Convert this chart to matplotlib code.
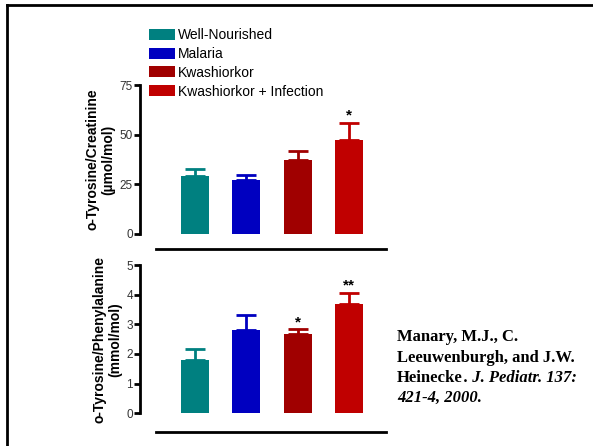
import matplotlib.pyplot as plt
from matplotlib.lines import Line2D

plt.rcParams['font.family'] = ['Liberation Sans', 'DejaVu Sans']

groups = ['Well-Nourished', 'Malaria', 'Kwashiorkor', 'Kwashiorkor + Infection']
colors = ['#008080', '#0000c0', '#a00000', '#c00000']

creatMean = [29.2, 27.0, 37.1, 47.3]
creatErr = [3.7, 2.7, 4.8, 8.7]
creatStars = ['', '', '', '*']

pheMean = [1.80, 2.80, 2.66, 3.68]
pheErr = [0.37, 0.52, 0.18, 0.39]
pheStars = ['', '', '*', '**']

x = [0, 1, 2, 3]

fig = plt.figure(figsize=(5.93, 4.46), dpi=100)

# frame lines
fig.add_artist(Line2D([7/593, 1], [1 - 5/446, 1 - 5/446], color='black', lw=2))
fig.add_artist(Line2D([7/593, 7/593], [0, 1 - 5/446], color='black', lw=2))
# separator lines
for yp in [249, 432]:
    fig.add_artist(Line2D([156/593, 386/593], [1 - yp/446, 1 - yp/446], color='black', lw=2))


def panel(ax, means, errs, stars, ymax, ticks, ylabel):
    for i in x:
        ax.bar(x[i], means[i], width=0.55, color=colors[i], label=groups[i], zorder=2)
        ax.errorbar(x[i], means[i], yerr=[[0], [errs[i]]], color=colors[i],
                    capsize=7, elinewidth=2, capthick=2, zorder=1)
        if stars[i]:
            ax.text(x[i], means[i] + errs[i], stars[i], ha='center', va='bottom',
                    fontsize=11, fontweight='bold')
    ax.set_xlim(-1.07, 3.72)
    ax.set_ylim(0, ymax)
    ax.set_yticks(ticks)
    ax.set_xticks([])
    for s in ['top', 'right', 'bottom']:
        ax.spines[s].set_visible(False)
    ax.spines['left'].set_linewidth(2)
    ax.spines['left'].set_bounds(0, ymax)
    ax.tick_params(axis='y', length=4, width=2, labelsize=8.5, pad=1,
                   labelcolor='#333333', color='black')
    ax.set_ylabel(ylabel, fontsize=10, fontweight='bold', labelpad=3)
    ax.patch.set_visible(False)


ax1 = fig.add_axes([140/593, 212/446, 246/593, 149/446])
panel(ax1, creatMean, creatErr, creatStars, 75, [0, 25, 50, 75],
      'o-Tyrosine/Creatinine\n(\u00b5mol/mol)')
ax1.legend(loc='upper left', bbox_to_anchor=(149/593, 1 - 28/446),
           bbox_transform=fig.transFigure, frameon=False, fontsize=10,
           handlelength=1.9, handleheight=0.85, handletextpad=0.2,
           labelspacing=0.35, borderaxespad=0, borderpad=0)

ax2 = fig.add_axes([140/593, 32.7/446, 246/593, 148.3/446])
panel(ax2, pheMean, pheErr, pheStars, 5, [0, 1, 2, 3, 4, 5],
      'o-Tyrosine/Phenylalanine\n(mmol/mol)')

cite = dict(family='Liberation Serif', fontweight='bold', fontsize=12, va='center')
fig.text(397/593, 1 - 337/446, 'Manary, M.J., C.', **cite)
fig.text(397/593, 1 - 357.5/446, 'Leeuwenburgh, and J.W.', **cite)
t = fig.text(397/593, 1 - 378/446, 'Heinecke', **cite)
fig.canvas.draw()
bb = t.get_window_extent()
fig.text((bb.x1 + 1) / 593, 1 - 378/446, '. J. Pediatr. 137:', style='italic', **cite)
fig.text(397/593, 1 - 398/446, '421-4, 2000.', style='italic', **cite)

plt.savefig('out.png', dpi=100)
